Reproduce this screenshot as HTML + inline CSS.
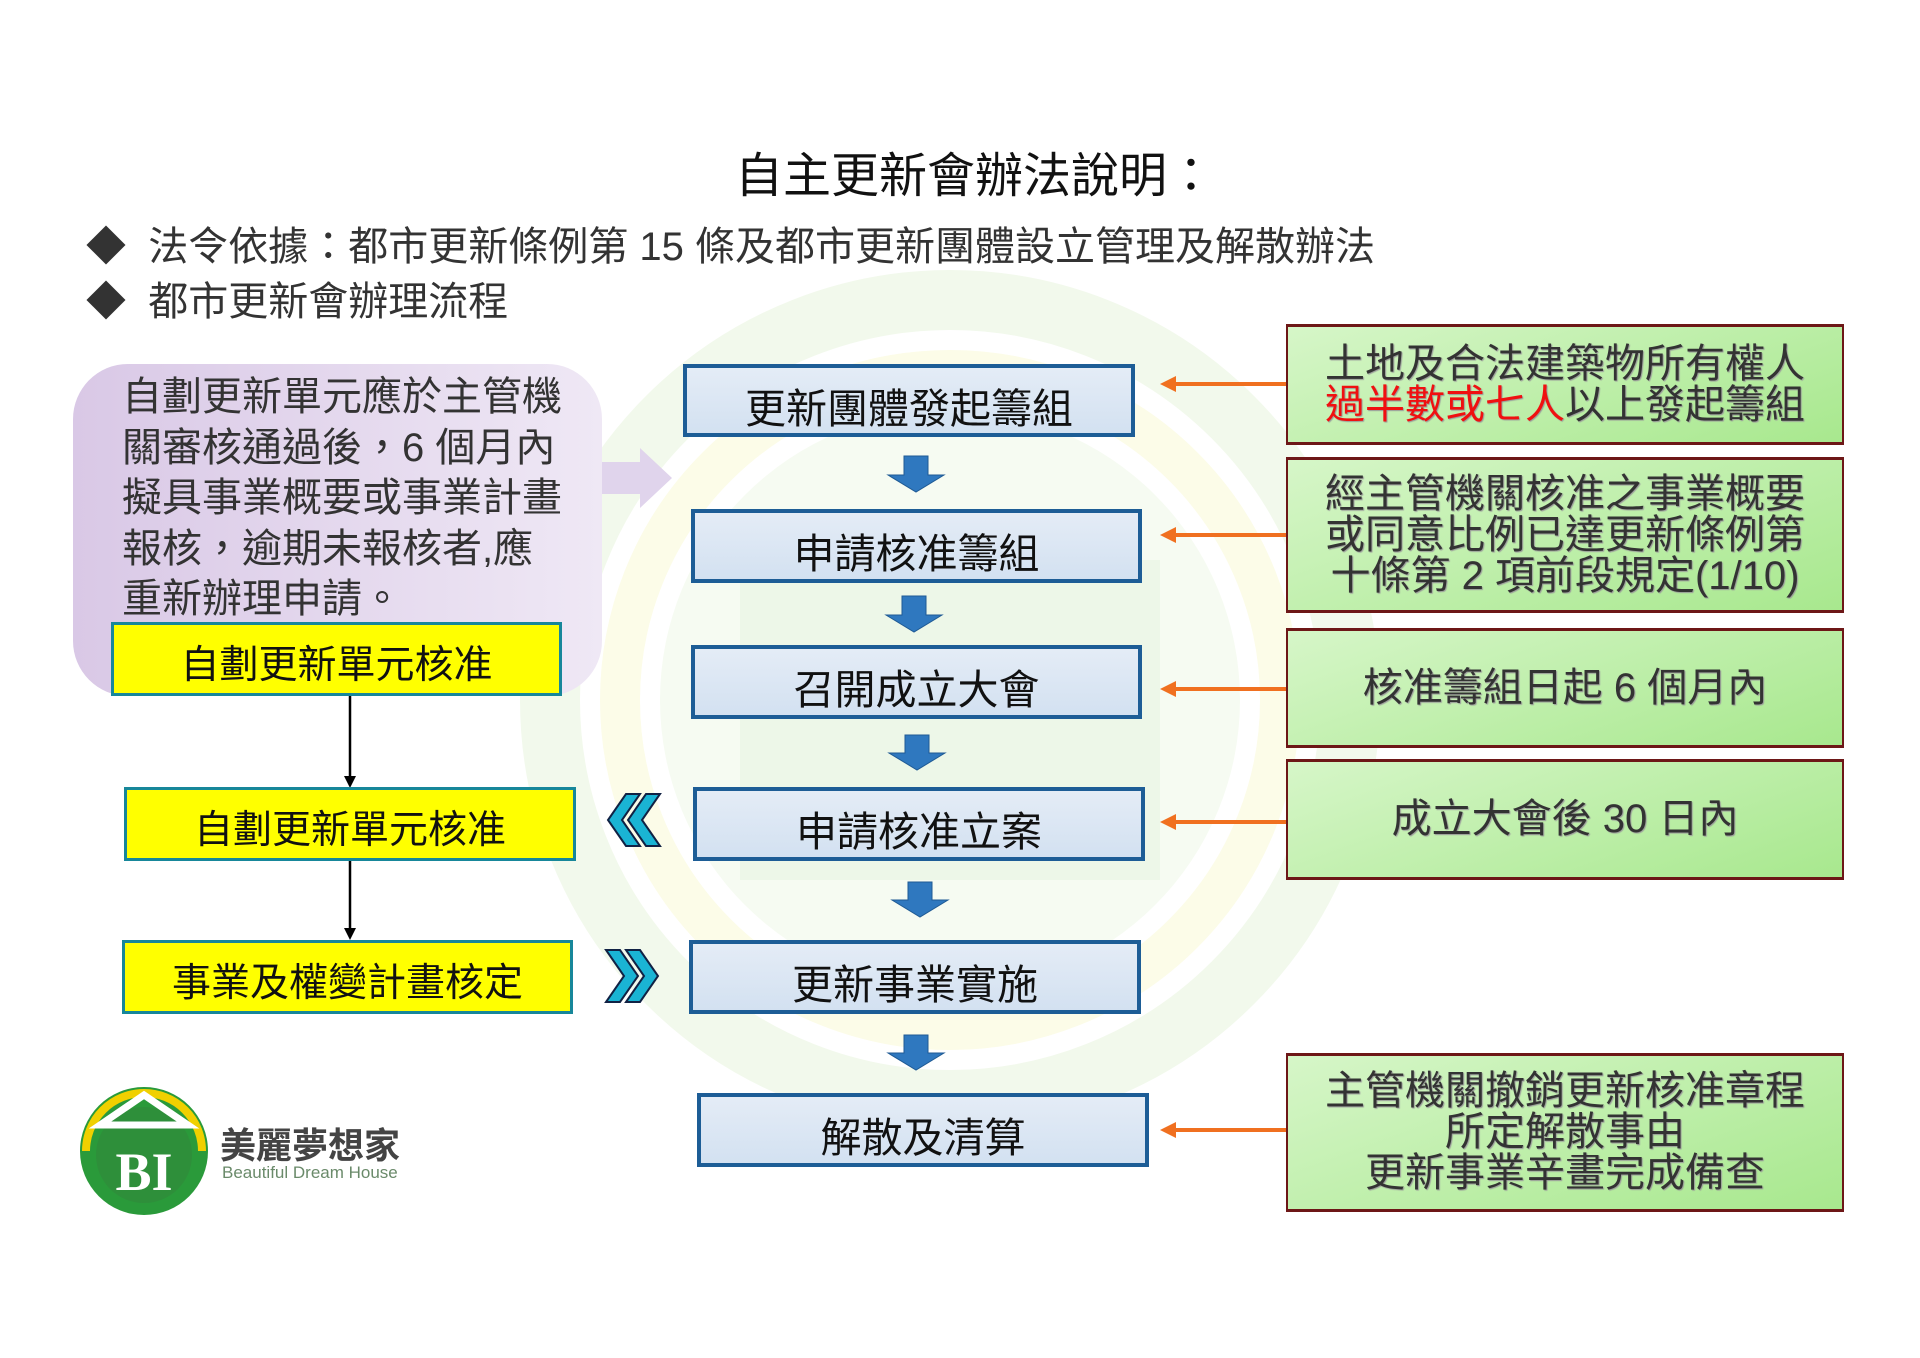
<!DOCTYPE html>
<html><head><meta charset="utf-8"><style>
*{margin:0;padding:0;box-sizing:border-box}
body{width:1920px;height:1358px;background:#fff;position:relative;overflow:hidden;font-family:"Liberation Sans","Noto Sans CJK TC",sans-serif;color:#222}
.a{position:absolute}
.blue{position:absolute;background:linear-gradient(#e4ecf6,#d3e1f1);border:4px solid #1d5d96;display:flex;align-items:center;justify-content:center;font-size:41px;color:#111;padding-top:8px}
.yel{position:absolute;background:#ffff00;border:3px solid #17879a;display:flex;align-items:center;justify-content:center;font-size:39px;color:#111;padding-top:6px}
.grn{position:absolute;left:1286px;width:558px;background:linear-gradient(160deg,#d6f6c8,#a8e88e);border:2px solid #6d1717;border-top-width:3px;border-bottom-width:3px;display:flex;flex-direction:column;align-items:center;justify-content:center;font-size:40px;line-height:41px;color:#333;text-shadow:1px 1px 1px #999;text-align:center}
</style></head><body>
<svg class="a" style="left:0;top:0" width="1920" height="1358">
 <circle cx="950" cy="700" r="400" fill="none" stroke="#f2f9ec" stroke-width="60"/>
 <circle cx="950" cy="700" r="330" fill="none" stroke="#fcfce8" stroke-width="40"/>
 <circle cx="950" cy="700" r="290" fill="#f6fbf2"/>
 <rect x="740" y="560" width="420" height="320" fill="#edf7e8"/>
 <polygon points="602,462 640,462 640,448 672,478 640,508 640,494 602,494" fill="#e0d4ec"/>
 <line x1="350" y1="696" x2="350" y2="780" stroke="#000" stroke-width="2.5"/>
 <polygon points="344,776 356,776 350,788" fill="#000"/>
 <line x1="350" y1="861" x2="350" y2="932" stroke="#000" stroke-width="2.5"/>
 <polygon points="344,928 356,928 350,940" fill="#000"/>
 <g fill="#2f78bf" stroke="#1f5a94" stroke-width="1">
  <polygon points="904,456 928,456 928,475 944,475 916,492 888,475 904,475"/>
  <polygon points="902,596 926,596 926,615 942,615 914,632 886,615 902,615"/>
  <polygon points="905,735 929,735 929,753 945,753 917,770 889,753 905,753"/>
  <polygon points="908,882 932,882 932,900 948,900 920,917 892,900 908,900"/>
  <polygon points="904,1035 928,1035 928,1053 944,1053 916,1070 888,1053 904,1053"/>
 </g>
 <g stroke="#f07020" stroke-width="4" fill="#f07020">
  <line x1="1286" y1="384" x2="1172" y2="384"/><polygon points="1160,384 1176,376 1176,392" stroke="none"/>
  <line x1="1286" y1="535" x2="1172" y2="535"/><polygon points="1160,535 1176,527 1176,543" stroke="none"/>
  <line x1="1286" y1="689" x2="1172" y2="689"/><polygon points="1160,689 1176,681 1176,697" stroke="none"/>
  <line x1="1286" y1="822" x2="1172" y2="822"/><polygon points="1160,822 1176,814 1176,830" stroke="none"/>
  <line x1="1286" y1="1130" x2="1172" y2="1130"/><polygon points="1160,1130 1176,1122 1176,1138" stroke="none"/>
 </g>
 <g fill="#1ab4d4" stroke="#124" stroke-width="2">
  <polygon points="626,794 640,794 622,820 640,846 626,846 608,820"/>
  <polygon points="646,794 660,794 642,820 660,846 646,846 628,820"/>
  <polygon points="606,950 620,950 638,976 620,1002 606,1002 624,976"/>
  <polygon points="626,950 640,950 658,976 640,1002 626,1002 644,976"/>
 </g>
 <circle cx="144" cy="1151" r="64" fill="#2a9a3a"/>
 <path d="M86,1151 A58,58 0 0 1 202,1151" fill="none" stroke="#f0d000" stroke-width="8"/>
 <circle cx="144" cy="1155" r="48" fill="#2e8f3a"/>
 <polygon points="100,1125 144,1095 188,1125" fill="none" stroke="#fff" stroke-width="7"/>
 <text x="144" y="1190" font-size="54" font-weight="bold" fill="#fff" text-anchor="middle" font-family="Liberation Serif,serif">BI</text>
</svg>

<div class="a" style="left:0;width:1950px;top:136px;text-align:center;font-size:48px;color:#111">自主更新會辦法說明：</div>
<div class="a" style="left:86px;top:214px;font-size:40px;color:#333;white-space:nowrap">◆&nbsp;&nbsp;法令依據：都市更新條例第 15 條及都市更新團體設立管理及解散辦法</div>
<div class="a" style="left:86px;top:269px;font-size:40px;color:#333">◆&nbsp;&nbsp;都市更新會辦理流程</div>

<div class="a" style="left:73px;top:364px;width:529px;height:332px;border-radius:55px;background:linear-gradient(90deg,#d9c8e6,#efe8f5)"></div>
<div class="a" style="left:122px;top:372px;width:480px;font-size:40px;line-height:50.5px;color:#333;white-space:nowrap">自劃更新單元應於主管機<br>關審核通過後，6 個月內<br>擬具事業概要或事業計畫<br>報核，逾期未報核者,應<br>重新辦理申請。</div>

<div class="yel" style="left:111px;top:622px;width:451px;height:74px">自劃更新單元核准</div>
<div class="yel" style="left:124px;top:787px;width:452px;height:74px">自劃更新單元核准</div>
<div class="yel" style="left:122px;top:940px;width:451px;height:74px">事業及權變計畫核定</div>

<div class="blue" style="left:683px;top:364px;width:452px;height:73px">更新團體發起籌組</div>
<div class="blue" style="left:691px;top:509px;width:451px;height:74px">申請核准籌組</div>
<div class="blue" style="left:691px;top:645px;width:451px;height:74px">召開成立大會</div>
<div class="blue" style="left:693px;top:787px;width:452px;height:74px">申請核准立案</div>
<div class="blue" style="left:689px;top:940px;width:452px;height:74px">更新事業實施</div>
<div class="blue" style="left:697px;top:1093px;width:452px;height:74px">解散及清算</div>

<div class="grn" style="top:324px;height:121px"><div>土地及合法建築物所有權人</div><div><span style="color:#f01010">過半數或七人</span>以上發起籌組</div></div>
<div class="grn" style="top:457px;height:156px"><div>經主管機關核准之事業概要</div><div>或同意比例已達更新條例第</div><div>十條第 2 項前段規定(1/10)</div></div>
<div class="grn" style="top:628px;height:120px">核准籌組日起 6 個月內</div>
<div class="grn" style="top:759px;height:121px">成立大會後 30 日內</div>
<div class="grn" style="top:1053px;height:159px"><div>主管機關撤銷更新核准章程</div><div>所定解散事由</div><div>更新事業辛畫完成備查</div></div>

<div class="a" style="left:220px;top:1117px;font-size:36px;font-weight:bold;color:#444">美麗夢想家</div>
<div class="a" style="left:222px;top:1163px;font-size:17px;color:#6a8a6a">Beautiful Dream House</div>
</body></html>
